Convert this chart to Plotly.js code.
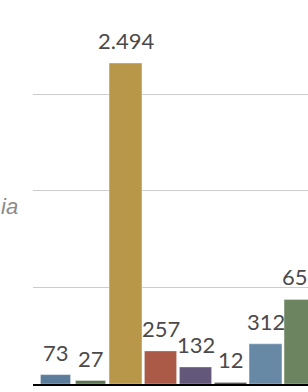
<!DOCTYPE html>
<html>
<head>
<meta charset="utf-8">
<script src="https://cdn.plot.ly/plotly-3.0.1.min.js"></script>
<style>
html,body{margin:0;padding:0;overflow:hidden;background:#fff;width:308px;height:392px;}
#chart{width:420px;height:392px;}
</style>
</head>
<body>
<div id="chart"></div>
<script>
// Data
const categories = [0, 1, 2, 3, 4, 5, 6, 7];
const values = [73, 27, 2494, 257, 132, 12, 312, 657];
const labels = ["73", "27", "2.494", "257", "132", "12", "312", "657"];
const colors = ["#5b7d9b", "#5e7452", "#b9974a", "#ab5a48", "#63577a", "#3a3a3a", "#6889a6", "#6c845f"];
const barWidths = [0.86, 0.86, 0.94, 0.92, 0.92, 0.92, 0.94, 0.94];
const axisTitle = "ia";

const trace = {
  type: "bar",
  x: categories,
  y: values,
  width: barWidths,
  marker: {color: colors, line: {color: "rgba(255,255,255,0.35)", width: 1}},
  hoverinfo: "none"
};

const annotations = categories.map((c, i) => ({
  x: c, y: values[i], xref: "x", yref: "y",
  text: labels[i], showarrow: false,
  xanchor: "center", yanchor: "bottom", yshift: 7,
  font: {family: "Lato, sans-serif", size: 22, color: "#4a4a4a"}
}));
annotations.push({
  x: -0.034, xref: "paper", y: 1383, yref: "y",
  text: axisTitle, showarrow: false, xanchor: "right", yanchor: "middle",
  font: {family: "Liberation Sans, Arial, sans-serif", size: 22, color: "#8a8a8a", style: "italic"}
});

const layout = {
  width: 420, height: 392,
  margin: {l: 33, r: 0, t: 0, b: 8, pad: 0},
  paper_bgcolor: "#fff", plot_bgcolor: "#fff",
  showlegend: false,
  xaxis: {range: [-0.643, 10.414], showgrid: false, zeroline: false, showticklabels: false,
          showline: true, linecolor: "#000", linewidth: 2, ticks: ""},
  yaxis: {range: [0, 2984], dtick: 750, tick0: 0, showgrid: true, gridcolor: "#cccccc", gridwidth: 1,
          zeroline: false, showticklabels: false, ticks: "", showline: false},
  annotations: annotations
};

Plotly.newPlot("chart", [trace], layout, {displayModeBar: false, staticPlot: true});
</script>
</body>
</html>
